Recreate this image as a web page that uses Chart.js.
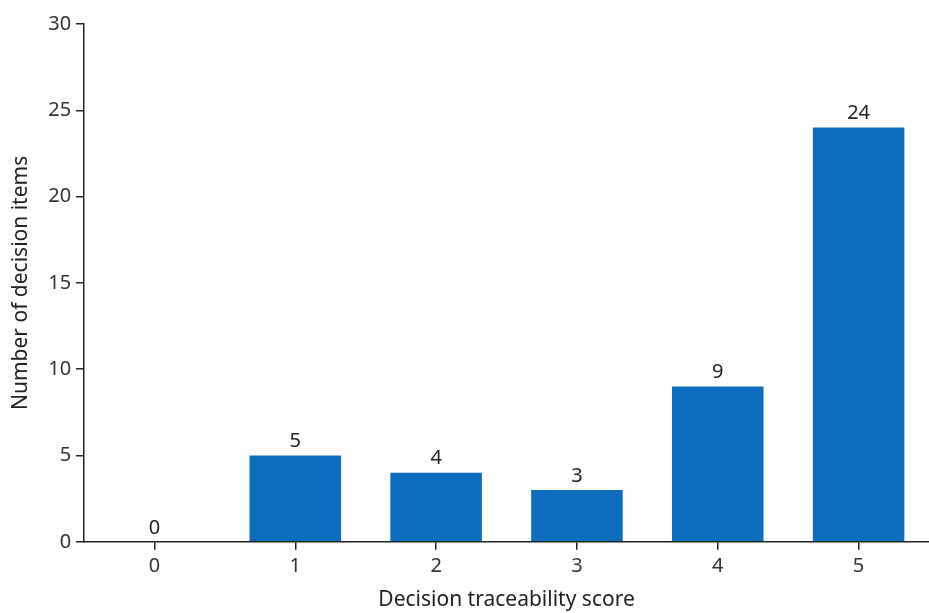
<!DOCTYPE html>
<html>
<head>
<meta charset="utf-8">
<script src="https://cdn.jsdelivr.net/npm/chart.js@4/dist/chart.umd.min.js"></script>
<style>
  html, body { margin: 0; padding: 0; background: #fff; }
  #wrap { width: 929px; height: 613px; }
</style>
</head>
<body>
<div id="wrap"><canvas id="chart" width="929" height="613"></canvas></div>
<script>
// --- Data ---
const scores = ['0', '1', '2', '3', '4', '5'];
const itemCounts = [0, 5, 4, 3, 9, 24];
const yTicks = [0, 5, 10, 15, 20, 25, 30];

const barColor = '#0f6dbf';
const fontFamily = "'Noto Sans', 'DejaVu Sans', sans-serif";

// --- Value labels above bars ---
const valueLabels = {
  id: 'valueLabels',
  afterDatasetsDraw(chart) {
    const ctx = chart.ctx;
    const meta = chart.getDatasetMeta(0);
    ctx.save();
    ctx.fillStyle = '#222';
    ctx.font = '20px ' + fontFamily;
    ctx.textAlign = 'center';
    ctx.textBaseline = 'bottom';
    meta.data.forEach((bar, i) => {
      ctx.fillText(String(itemCounts[i]), bar.x, bar.y - 4);
    });
    ctx.restore();
  }
};

new Chart(document.getElementById('chart'), {
  type: 'bar',
  data: {
    labels: scores,
    datasets: [{
      data: itemCounts,
      backgroundColor: barColor,
      borderWidth: 0,
      categoryPercentage: 1,
      barPercentage: 0.65
    }]
  },
  options: {
    responsive: false,
    animation: false,
    layout: { padding: { top: 24, right: 0, left: 4, bottom: 0 } },
    plugins: { legend: { display: false }, tooltip: { enabled: false } },
    scales: {
      x: {
        grid: { display: true, offset: false, drawOnChartArea: false, drawTicks: true, tickLength: 8, color: '#222', lineWidth: 1.5 },
        border: { display: true, color: '#222', width: 1.5 },
        ticks: { color: '#333', font: { size: 20, family: fontFamily }, padding: 4 },
        title: { display: true, text: 'Decision traceability score', color: '#222', font: { size: 21, family: fontFamily }, padding: { top: 6, bottom: 0 } }
      },
      y: {
        min: 0,
        max: 30,
        afterBuildTicks(axis) { axis.ticks = yTicks.map((v) => ({ value: v })); },
        grid: { display: true, drawOnChartArea: false, drawTicks: true, tickLength: 8, color: '#222', lineWidth: 1.5 },
        border: { display: true, color: '#222', width: 1.5 },
        ticks: { color: '#333', font: { size: 20, family: fontFamily }, padding: 5 },
        title: { display: true, text: 'Number of decision items', color: '#222', font: { size: 21, family: fontFamily }, padding: { bottom: 10 } }
      }
    }
  },
  plugins: [valueLabels]
});
</script>
</body>
</html>
